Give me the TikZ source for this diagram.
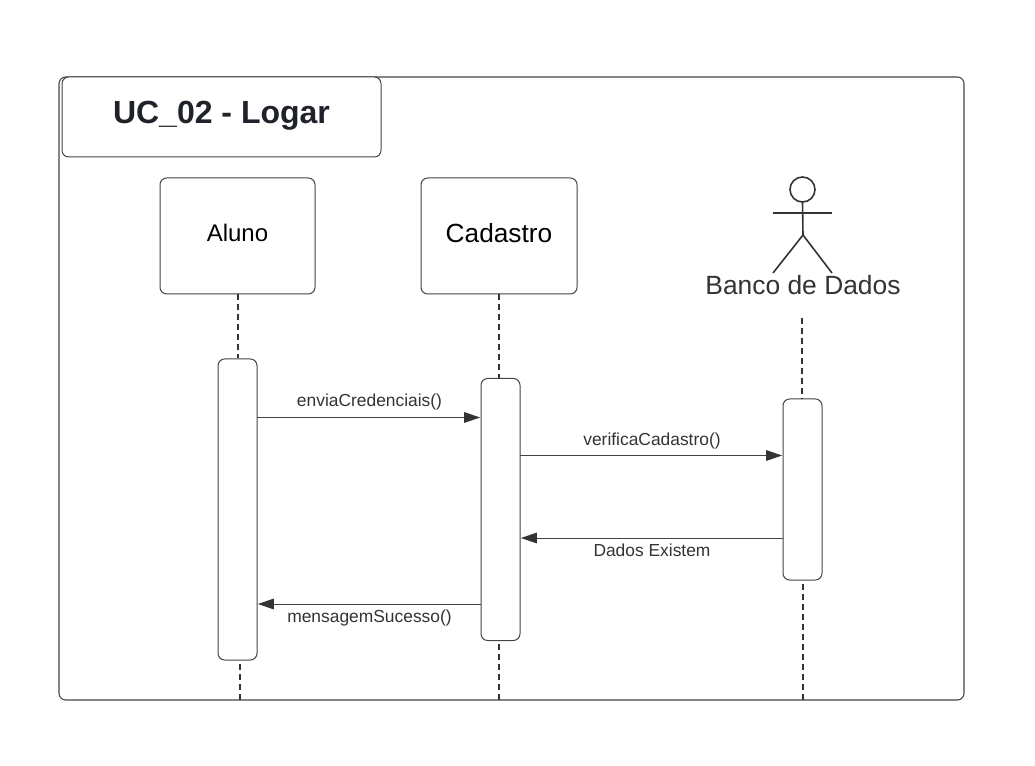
\documentclass[tikz,border=0pt]{standalone}
\usepackage{fontspec}
\setmainfont{Liberation Sans}
\usetikzlibrary{arrows.meta}
\definecolor{ink}{HTML}{333333}
\definecolor{rim}{HTML}{444444}
\definecolor{titleink}{HTML}{1F2329}
\tikzset{
  x=0.75pt,y=-0.75pt,
  every node/.style={inner sep=0pt,outer sep=0pt},
  framebox/.style={draw=rim,line width=0.8pt,rounded corners=5pt,minimum width=678.75pt,minimum height=467.25pt},
  titlebox/.style={draw=rim,line width=0.75pt,rounded corners=5pt,fill=white,minimum width=239.25pt,minimum height=60pt},
  headbox/.style={draw=rim,line width=0.75pt,rounded corners=5pt,minimum width=117pt,minimum height=87pt},
  barbox/.style={draw=rim,line width=0.75pt,rounded corners=5pt,fill=white,minimum width=29.25pt},
  lifeline/.style={draw=ink,line width=1pt,dash pattern=on 4.5pt off 3pt},
  message/.style={draw=rim,line width=0.75pt,shorten >=0.7pt,-{Triangle[length=12pt,width=8pt,fill=ink,color=ink]}},
  msgtext/.style={text=ink,font=\fontsize{13.05pt}{15pt}\selectfont},
  stick/.style={draw=ink,line width=1.2pt},
}
\begin{document}
\begin{tikzpicture}
\useasboundingbox (0,0) rectangle (1035,766);
\node[framebox] (frame) at (511.5,388.5) {};
\node[titlebox] (title) at (221.5,117) {};
\node[text=titleink,font=\bfseries\fontsize{24pt}{28pt}\selectfont] (titletext) at (221.5,116) {UC\_02 - Logar};
\node[headbox,minimum width=116.25pt] (aluno) at (237.5,236) {};
\node[font=\fontsize{18pt}{21pt}\selectfont,text=black] (alunotext) at (237.5,233) {Aluno};
\node[headbox] (cadastro) at (499,236) {};
\node[font=\fontsize{19.7pt}{23pt}\selectfont,text=black] (cadastrotext) at (499,233.5) {Cadastro};
% actor
\node[circle,stick,minimum size=18.75pt] (head) at (802.5,189.5) {};
\coordinate (hip) at (803,235);
\coordinate (armL) at (773,213);
\coordinate (armR) at (832,213);
\coordinate (legL) at (773,273);
\coordinate (legR) at (832,273);
\draw[stick] (armL) -- (armR);
\draw[stick] (head.south) -- (hip);
\draw[stick] (legL) -- (hip) -- (legR);
\node[font=\fontsize{19.8pt}{23pt}\selectfont,text=ink] (banco) at (803,285) {Banco de Dados};
% bars
\node[barbox,minimum height=225.75pt] (barA) at (237.5,509.5) {};
\node[barbox,minimum height=196.5pt] (barC) at (500.5,509.5) {};
\node[barbox,minimum height=135.75pt] (barB) at (802.5,489.5) {};
% lifelines
\coordinate (bancotop) at (802,318);
\coordinate (endA) at (240,700);
\coordinate (endC) at (499,700);
\coordinate (endB) at (803,700);
\draw[lifeline] (238,294.5) -- (238,358.5);
\draw[lifeline] (499,294.5) -- (499,378.5);
\draw[lifeline] (bancotop) -- (802,398.5);
\draw[lifeline] (endA) -- (endA |- barA.south);
\draw[lifeline] (endC) -- (endC |- barC.south);
\draw[lifeline] (endB) -- (endB |- barB.south);
% messages
\coordinate (m1) at (0,417.5);
\coordinate (m2) at (0,455.5);
\coordinate (m3) at (0,538);
\coordinate (m4) at (0,604);
\draw[message] (barA.east |- m1) -- (barC.west |- m1);
\draw[message] (barC.east |- m2) -- (barB.west |- m2);
\draw[message] (barB.west |- m3) -- (barC.east |- m3);
\draw[message] (barC.west |- m4) -- (barA.east |- m4);
\node[msgtext] (t1) at (369.5,401.5) {enviaCredenciais()};
\node[msgtext] (t2) at (652,440.5) {verificaCadastro()};
\node[msgtext] (t3) at (652,550) {Dados Existem};
\node[msgtext] (t4) at (369.5,617.5) {mensagemSucesso()};
\end{tikzpicture}
\end{document}
